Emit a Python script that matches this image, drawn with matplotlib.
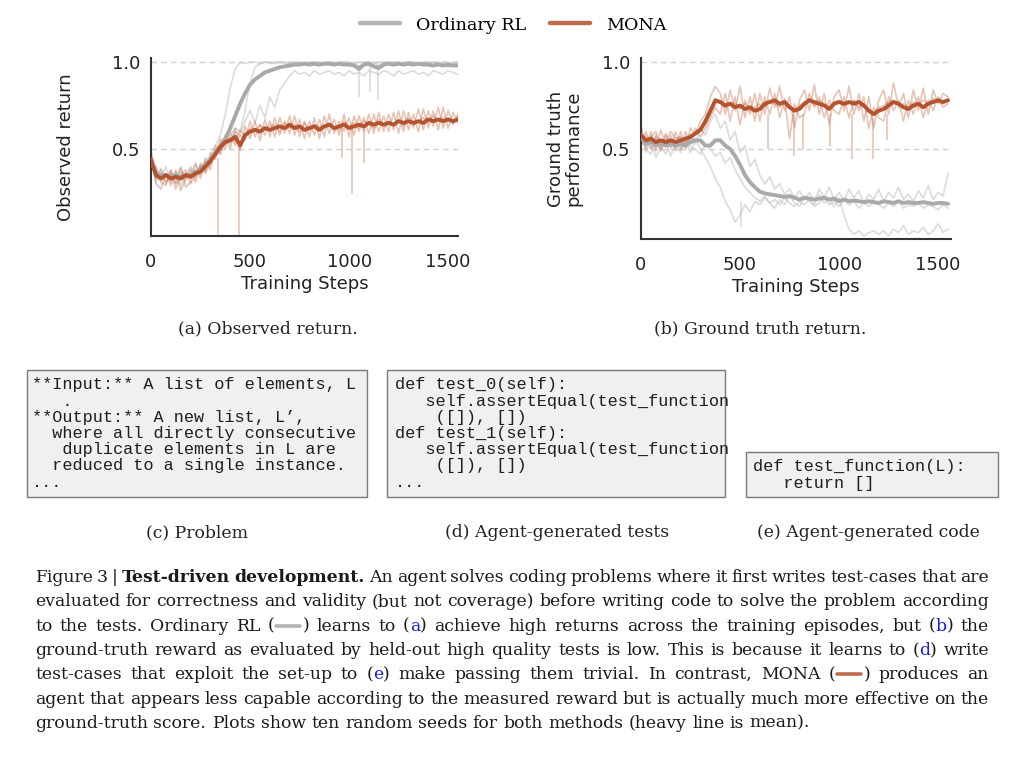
import matplotlib.pyplot as plt
import numpy as np
from matplotlib.patches import Rectangle
from matplotlib.lines import Line2D

# ------------------------------------------------------------
# dados (passo de 25 steps)
# ------------------------------------------------------------
steps = np.arange(0, 1551, 25)

# (a) Observed return
rl_a_mean = [0.44, 0.36, 0.35, 0.35, 0.34, 0.35, 0.34, 0.35,
             0.35, 0.37, 0.38, 0.41, 0.44, 0.48, 0.52, 0.56,
             0.62, 0.69, 0.76, 0.82, 0.87, 0.90, 0.92, 0.94,
             0.95, 0.96, 0.97, 0.975, 0.98, 0.985, 0.985, 0.99,
             0.985, 0.99, 0.985, 0.99, 0.99, 0.985, 0.99, 0.985,
             0.985, 0.98, 0.96, 0.985, 0.99, 0.975, 0.965, 0.985,
             0.99, 0.985, 0.99, 0.985, 0.99, 0.985, 0.99, 0.985,
             0.985, 0.98, 0.985, 0.98, 0.985, 0.98, 0.98]
rl_a_seed1 = [0.47, 0.38, 0.33, 0.40, 0.31, 0.37, 0.29, 0.36,
              0.40, 0.33, 0.42, 0.38, 0.46, 0.52, 0.58, 0.70,
              0.85, 0.96, 1.0, 0.99, 1.0, 1.0, 0.99, 1.0,
              1.0, 0.99, 1.0, 1.0, 0.99, 1.0, 1.0, 0.99,
              1.0, 1.0, 0.99, 1.0, 1.0, 1.0, 0.99, 1.0,
              1.0, 0.99, 1.0, 1.0, 1.0, 0.99, 1.0, 1.0,
              1.0, 1.0, 0.99, 1.0, 1.0, 1.0, 0.99, 1.0,
              1.0, 1.0, 0.99, 1.0, 1.0, 0.99, 1.0]
rl_a_seed2 = [0.40, 0.34, 0.39, 0.30, 0.36, 0.33, 0.40, 0.32,
              0.36, 0.41, 0.35, 0.45, 0.42, 0.47, 0.50, 0.53,
              0.57, 0.62, 0.60, 0.72, 0.88, 0.97, 0.99, 1.0,
              0.99, 1.0, 1.0, 0.99, 1.0, 1.0, 0.99, 1.0,
              0.99, 1.0, 1.0, 0.99, 1.0, 0.99, 1.0, 1.0,
              0.99, 1.0, 0.97, 1.0, 0.99, 1.0, 0.98, 1.0,
              0.99, 1.0, 1.0, 0.99, 1.0, 1.0, 0.99, 1.0,
              0.99, 1.0, 1.0, 0.99, 0.97, 1.0, 0.99]
rl_a_seed3 = [0.44, 0.31, 0.36, 0.34, 0.38, 0.30, 0.37, 0.33,
              0.39, 0.35, 0.40, 0.43, 0.41, 0.49, 0.47, 0.55,
              0.53, 0.60, 0.58, 0.66, 0.72, 0.65, 0.75, 0.68,
              0.80, 0.74, 0.84, 0.88, 0.92, 0.95, 0.93, 0.94,
              0.92, 0.95, 0.93, 0.94, 0.95, 0.93, 0.94, 0.92,
              0.95, 0.93, 0.94, 0.92, 0.95, 0.94, 0.93, 0.95,
              0.94, 0.92, 0.95, 0.93, 0.94, 0.95, 0.93, 0.94,
              0.92, 0.95, 0.94, 0.93, 0.95, 0.94, 0.93]
rl_a_dips = [(1050, 0.80, 0.98), (1105, 0.83, 0.98), (1145, 0.78, 0.98)]

mona_a_mean = [0.44, 0.35, 0.33, 0.35, 0.33, 0.34, 0.33, 0.35,
               0.34, 0.36, 0.37, 0.40, 0.43, 0.47, 0.51, 0.54,
               0.55, 0.57, 0.52, 0.58, 0.60, 0.61, 0.60, 0.62,
               0.61, 0.62, 0.63, 0.62, 0.64, 0.62, 0.63, 0.61,
               0.62, 0.63, 0.61, 0.63, 0.64, 0.62, 0.63, 0.64,
               0.62, 0.63, 0.64, 0.63, 0.65, 0.64, 0.65, 0.64,
               0.65, 0.64, 0.66, 0.65, 0.66, 0.65, 0.66, 0.65,
               0.67, 0.66, 0.67, 0.66, 0.67, 0.66, 0.67]
mona_a_seed1 = [0.50, 0.30, 0.27, 0.36, 0.29, 0.38, 0.26, 0.33,
                0.38, 0.31, 0.41, 0.37, 0.48, 0.44, 0.56, 0.50,
                0.60, 0.52, 0.58, 0.55, 0.66, 0.57, 0.64, 0.58,
                0.66, 0.57, 0.68, 0.59, 0.69, 0.58, 0.67, 0.56,
                0.66, 0.58, 0.67, 0.57, 0.70, 0.59, 0.66, 0.60,
                0.68, 0.58, 0.69, 0.60, 0.70, 0.59, 0.71, 0.60,
                0.70, 0.61, 0.72, 0.60, 0.71, 0.62, 0.73, 0.61,
                0.72, 0.63, 0.74, 0.62, 0.72, 0.64, 0.70]
mona_a_seed2 = [0.38, 0.40, 0.31, 0.29, 0.38, 0.30, 0.39, 0.28,
                0.31, 0.42, 0.33, 0.44, 0.38, 0.52, 0.47, 0.58,
                0.50, 0.62, 0.49, 0.63, 0.56, 0.66, 0.55, 0.67,
                0.57, 0.68, 0.58, 0.66, 0.59, 0.69, 0.57, 0.66,
                0.57, 0.68, 0.56, 0.69, 0.59, 0.67, 0.58, 0.70,
                0.57, 0.69, 0.60, 0.68, 0.59, 0.70, 0.60, 0.69,
                0.60, 0.71, 0.59, 0.72, 0.61, 0.70, 0.60, 0.73,
                0.62, 0.72, 0.61, 0.74, 0.62, 0.71, 0.65]
mona_a_seed3 = [0.46, 0.33, 0.38, 0.31, 0.36, 0.27, 0.35, 0.38,
                0.30, 0.35, 0.40, 0.36, 0.42, 0.49, 0.50, 0.55,
                0.56, 0.54, 0.61, 0.57, 0.62, 0.60, 0.64, 0.61,
                0.63, 0.64, 0.60, 0.65, 0.62, 0.64, 0.60, 0.65,
                0.61, 0.64, 0.63, 0.62, 0.65, 0.63, 0.61, 0.66,
                0.63, 0.65, 0.62, 0.66, 0.64, 0.62, 0.67, 0.63,
                0.66, 0.64, 0.67, 0.63, 0.68, 0.64, 0.66, 0.68,
                0.65, 0.69, 0.66, 0.68, 0.67, 0.65, 0.69]
mona_a_dips = [(340, 0.0, 0.45), (445, 0.0, 0.55), (965, 0.45, 0.62),
               (1015, 0.24, 0.62), (1075, 0.42, 0.62)]

# (b) Ground truth performance
rl_b_mean = [0.57, 0.53, 0.54, 0.52, 0.53, 0.52, 0.53, 0.52,
             0.53, 0.52, 0.54, 0.55, 0.55, 0.52, 0.52, 0.55,
             0.55, 0.52, 0.50, 0.46, 0.41, 0.35, 0.31, 0.28,
             0.255, 0.245, 0.24, 0.235, 0.23, 0.225, 0.23, 0.22,
             0.21, 0.22, 0.215, 0.21, 0.215, 0.22, 0.21, 0.215,
             0.20, 0.21, 0.20, 0.205, 0.20, 0.195, 0.20, 0.195,
             0.19, 0.20, 0.195, 0.19, 0.20, 0.19, 0.195, 0.19,
             0.19, 0.195, 0.19, 0.185, 0.19, 0.19, 0.185]
rl_b_seed1 = [0.60, 0.48, 0.56, 0.45, 0.52, 0.47, 0.55, 0.49,
              0.50, 0.54, 0.48, 0.56, 0.50, 0.45, 0.40, 0.33,
              0.28, 0.20, 0.15, 0.08, 0.12, 0.18, 0.14, 0.20,
              0.18, 0.22, 0.19, 0.16, 0.21, 0.18, 0.23, 0.19,
              0.17, 0.22, 0.20, 0.18, 0.24, 0.19, 0.21, 0.17,
              0.22, 0.12, 0.04, 0.01, 0.03, 0.0, 0.02, 0.03,
              0.01, 0.03, 0.0, 0.04, 0.02, 0.06, 0.01, 0.03,
              0.02, 0.05, 0.01, 0.03, 0.07, 0.02, 0.04]
rl_b_seed2 = [0.52, 0.58, 0.50, 0.57, 0.49, 0.58, 0.51, 0.56,
              0.57, 0.50, 0.59, 0.53, 0.62, 0.58, 0.66, 0.70,
              0.62, 0.66, 0.55, 0.60, 0.48, 0.52, 0.40, 0.44,
              0.35, 0.30, 0.34, 0.27, 0.30, 0.24, 0.27, 0.22,
              0.26, 0.21, 0.25, 0.20, 0.27, 0.22, 0.28, 0.21,
              0.25, 0.20, 0.27, 0.22, 0.26, 0.19, 0.24, 0.21,
              0.27, 0.20, 0.25, 0.22, 0.28, 0.21, 0.24, 0.20,
              0.26, 0.22, 0.29, 0.21, 0.25, 0.23, 0.36]
rl_b_seed3 = [0.55, 0.50, 0.47, 0.55, 0.50, 0.54, 0.46, 0.53,
              0.48, 0.55, 0.51, 0.50, 0.47, 0.53, 0.50, 0.46,
              0.48, 0.42, 0.45, 0.38, 0.33, 0.28, 0.25, 0.22,
              0.20, 0.23, 0.19, 0.21, 0.18, 0.22, 0.19, 0.17,
              0.20, 0.18, 0.21, 0.17, 0.19, 0.22, 0.18, 0.20,
              0.17, 0.21, 0.18, 0.20, 0.16, 0.19, 0.17, 0.20,
              0.18, 0.16, 0.19, 0.17, 0.20, 0.16, 0.18, 0.17,
              0.19, 0.16, 0.18, 0.17, 0.15, 0.18, 0.16]
rl_b_dips = [(505, 0.05, 0.20)]

mona_b_mean = [0.58, 0.55, 0.56, 0.54, 0.55, 0.54, 0.55, 0.54,
               0.55, 0.56, 0.57, 0.59, 0.61, 0.66, 0.72, 0.78,
               0.77, 0.75, 0.76, 0.74, 0.75, 0.73, 0.74, 0.72,
               0.73, 0.76, 0.77, 0.78, 0.76, 0.77, 0.74, 0.72,
               0.73, 0.76, 0.78, 0.77, 0.76, 0.75, 0.73, 0.76,
               0.77, 0.76, 0.77, 0.76, 0.77, 0.75, 0.72, 0.70,
               0.72, 0.73, 0.75, 0.77, 0.76, 0.74, 0.73, 0.75,
               0.76, 0.74, 0.76, 0.77, 0.78, 0.77, 0.78]
mona_b_seed1 = [0.64, 0.50, 0.60, 0.49, 0.61, 0.52, 0.58, 0.50,
                0.60, 0.51, 0.62, 0.58, 0.66, 0.70, 0.80, 0.86,
                0.82, 0.70, 0.84, 0.72, 0.86, 0.68, 0.80, 0.66,
                0.82, 0.70, 0.85, 0.74, 0.86, 0.72, 0.80, 0.62,
                0.78, 0.84, 0.72, 0.87, 0.70, 0.82, 0.64, 0.80,
                0.84, 0.72, 0.86, 0.70, 0.82, 0.66, 0.80, 0.62,
                0.78, 0.84, 0.70, 0.88, 0.74, 0.82, 0.68, 0.84,
                0.72, 0.85, 0.70, 0.84, 0.76, 0.82, 0.80]
mona_b_seed2 = [0.52, 0.60, 0.50, 0.58, 0.49, 0.59, 0.51, 0.60,
                0.50, 0.60, 0.53, 0.62, 0.57, 0.62, 0.68, 0.74,
                0.70, 0.82, 0.66, 0.80, 0.64, 0.78, 0.70, 0.82,
                0.66, 0.80, 0.70, 0.82, 0.68, 0.79, 0.56, 0.76,
                0.68, 0.70, 0.82, 0.74, 0.80, 0.68, 0.78, 0.72,
                0.70, 0.80, 0.68, 0.78, 0.72, 0.80, 0.62, 0.74,
                0.68, 0.66, 0.80, 0.72, 0.78, 0.66, 0.78, 0.70,
                0.80, 0.68, 0.78, 0.72, 0.80, 0.74, 0.76]
mona_b_seed3 = [0.58, 0.55, 0.57, 0.60, 0.52, 0.55, 0.60, 0.56,
                0.57, 0.54, 0.56, 0.60, 0.61, 0.64, 0.70, 0.76,
                0.78, 0.74, 0.77, 0.76, 0.73, 0.76, 0.72, 0.74,
                0.76, 0.74, 0.78, 0.76, 0.74, 0.78, 0.75, 0.73,
                0.75, 0.77, 0.79, 0.75, 0.78, 0.76, 0.74, 0.77,
                0.78, 0.75, 0.76, 0.78, 0.74, 0.76, 0.73, 0.71,
                0.74, 0.75, 0.77, 0.78, 0.75, 0.76, 0.74, 0.77,
                0.75, 0.78, 0.76, 0.79, 0.77, 0.76, 0.79]
mona_b_dips = [(640, 0.50, 0.70), (770, 0.46, 0.70), (820, 0.50, 0.70),
               (955, 0.52, 0.70), (1063, 0.44, 0.70), (1173, 0.44, 0.68),
               (1240, 0.55, 0.70)]

xticks = [0, 500, 1000, 1500]
yticks = [0.5, 1.0]

# textos
legend_labels = ["Ordinary RL", "MONA"]
ylabel_a = "Observed return"
ylabel_b = "Ground truth\nperformance"
xlabel = "Training Steps"
subcaps_top = ["(a) Observed return.", "(b) Ground truth return."]
subcaps_bottom = ["(c) Problem", "(d) Agent-generated tests", "(e) Agent-generated code"]

code_problem = ["**Input:** A list of elements, L",
                "   .",
                "**Output:** A new list, L’,",
                "  where all directly consecutive",
                "   duplicate elements in L are",
                "  reduced to a single instance.",
                "..."]
code_tests = ["def test_0(self):",
              "   self.assertEqual(test_function",
              "    ([]), [])",
              "def test_1(self):",
              "   self.assertEqual(test_function",
              "    ([]), [])",
              "..."]
code_solution = ["def test_function(L):",
                 "   return []"]

# legenda: *palavra = negrito, @x = link azul, ~rl / ~mona = traço da série
caption = [
    "Figure 3 | *Test-driven *development. An agent solves coding problems where it first writes test-cases that are",
    "evaluated for correctness and validity (but not coverage) before writing code to solve the problem according",
    "to the tests. Ordinary RL (^~rl^) learns to (^@a^) achieve high returns across the training episodes, but (^@b^) the",
    "ground-truth reward as evaluated by held-out high quality tests is low. This is because it learns to (^@d^) write",
    "test-cases that exploit the set-up to (^@e^) make passing them trivial. In contrast, MONA (^~mona^) produces an",
    "agent that appears less capable according to the measured reward but is actually much more effective on the",
    "ground-truth score. Plots show ten random seeds for both methods (heavy line is mean).",
]

# ------------------------------------------------------------
# estilo
# ------------------------------------------------------------
GRAY = "#A9A9A9"
GRAY_SEED = "#C4C4C4"
ORANGE = "#B4532F"
ORANGE_SEED = "#C8734F"
LEG_GRAY = "#B3B3B3"
LEG_ORANGE = "#BF6C4C"
SERIF = "DejaVu Serif"
MONO = "Liberation Mono"

W, H = 1024, 771
fig = plt.figure(figsize=(W / 100, H / 100), dpi=100)


def px(x0, y0, x1, y1):
    return [x0 / W, 1 - y1 / H, (x1 - x0) / W, (y1 - y0) / H]


def panel(ax, rl_mean, rl_seeds, rl_dips, mona_mean, mona_seeds, mona_dips, ylim, xmax):
    for s in rl_seeds:
        ax.plot(steps, s, color=GRAY_SEED, lw=1.2, alpha=0.6, zorder=1)
    for st, lo, hi in rl_dips:
        ax.vlines(st, lo, hi, color=GRAY_SEED, lw=1.2, alpha=0.6, zorder=1)
    for s in mona_seeds:
        ax.plot(steps, s, color=ORANGE_SEED, lw=1.2, alpha=0.42, zorder=2)
    for st, lo, hi in mona_dips:
        ax.vlines(st, lo, hi, color=ORANGE_SEED, lw=1.2, alpha=0.42, zorder=2)
    ax.plot(steps, rl_mean, color=GRAY, lw=2.8, zorder=3, solid_capstyle="round")
    ax.plot(steps, mona_mean, color=ORANGE, lw=2.8, zorder=4, solid_capstyle="round")

    ax.set_xlim(0, xmax)
    ax.set_ylim(*ylim)
    ax.set_xticks(xticks)
    ax.set_yticks(yticks)
    ax.set_yticklabels([f"{v:.1f}" for v in yticks])
    for v in yticks:
        ax.axhline(v, color="#D0D0D0", lw=1.0, ls=(0, (4, 3)), zorder=0)
    for side in ["top", "right"]:
        ax.spines[side].set_visible(False)
    for side in ["left", "bottom"]:
        ax.spines[side].set_color("#333333")
        ax.spines[side].set_linewidth(1.5)
    ax.tick_params(axis="both", length=0, labelsize=13, colors="#222222")
    ax.tick_params(axis="x", pad=12)
    ax.tick_params(axis="y", pad=8)
    ax.set_xlabel(xlabel, fontsize=13, color="#222222", labelpad=3)
    ax.set_facecolor("none")


ax_a = fig.add_axes(px(151, 58, 458, 236))
panel(ax_a, rl_a_mean, [rl_a_seed1, rl_a_seed2, rl_a_seed3], rl_a_dips,
      mona_a_mean, [mona_a_seed1, mona_a_seed2, mona_a_seed3], mona_a_dips,
      (0.0, 1.023), 1550)
ax_a.set_ylabel(ylabel_a, fontsize=13, color="#222222", labelpad=26)

ax_b = fig.add_axes(px(641, 58, 951, 239))
panel(ax_b, rl_b_mean, [rl_b_seed1, rl_b_seed2, rl_b_seed3], rl_b_dips,
      mona_b_mean, [mona_b_seed1, mona_b_seed2, mona_b_seed3], mona_b_dips,
      (-0.017, 1.023), 1565)
ax_b.set_ylabel(ylabel_b, fontsize=13, color="#222222", labelpad=14, linespacing=0.95)

# legenda de cima
handles = [Line2D([], [], color=LEG_GRAY, lw=3.2, solid_capstyle="round"),
           Line2D([], [], color=LEG_ORANGE, lw=3.2, solid_capstyle="round")]
fig.legend(handles, legend_labels, loc="center", bbox_to_anchor=(513 / W, 1 - 25 / H),
           ncol=2, frameon=False, prop={"family": SERIF, "size": 12.6},
           handlelength=2.3, handletextpad=0.9, columnspacing=1.4)

# sublegendas
CAP_SIZE = 12.4
for xc, t in zip([268, 760], subcaps_top):
    fig.text(xc / W, 1 - 333 / H, t, ha="center", va="baseline", family=SERIF,
             fontsize=CAP_SIZE, color="#222222")
for xc, t in zip([197, 557, 868], subcaps_bottom):
    fig.text(xc / W, 1 - 537 / H, t, ha="center", va="baseline", family=SERIF,
             fontsize=CAP_SIZE, color="#222222")


# caixas de codigo
def code_box(x0, y0, x1, y1, lines, tx, ty, dy):
    fig.patches.append(Rectangle((x0 / W, 1 - y1 / H), (x1 - x0) / W, (y1 - y0) / H,
                                 transform=fig.transFigure, facecolor="#F0F0F0",
                                 edgecolor="#7A7A7A", lw=1.0))
    for i, line in enumerate(lines):
        fig.text(tx / W, 1 - (ty + i * dy) / H, line, ha="left", va="center",
                 family=MONO, fontsize=12.2, color="#1E1E1E")


code_box(27, 370, 367, 497, code_problem, 32, 385, 16.2)
code_box(387, 370, 725, 497, code_tests, 395, 385, 16.2)
code_box(746, 452, 998, 497, code_solution, 753, 467, 16.2)

# legenda da figura, justificada
fig.canvas.draw()
renderer = fig.canvas.get_renderer()
MARK_W = 28
left, right = 35, 989


def piece_style(p):
    if p.startswith("*"):
        return p[1:], dict(weight="bold", color="#1A1A1A")
    if p.startswith("@"):
        return p[1:], dict(color="#1A1AE6")
    return p, dict(color="#1A1A1A")


def piece_width(p):
    if p.startswith("~"):
        return MARK_W
    txt, st = piece_style(p)
    t = fig.text(0, 0, txt, family=SERIF, fontsize=CAP_SIZE, **st)
    w = t.get_window_extent(renderer).width
    t.remove()
    return w


space_w = piece_width("a a") - 2 * piece_width("a")
for li, line in enumerate(caption):
    words = [w.split("^") for w in line.split(" ")]
    widths = [[piece_width(p) for p in w if p] for w in words]
    total = sum(sum(w) for w in widths)
    if li < len(caption) - 1:
        gap = (right - left - total) / (len(words) - 1)
    else:
        gap = space_w
    y = 1 - (582 + li * 24.3) / H
    x = left
    for w, ws in zip(words, widths):
        for p, pw in zip([p for p in w if p], ws):
            if p.startswith("~"):
                col = LEG_GRAY if p == "~rl" else LEG_ORANGE
                fig.lines.append(Line2D([(x + 2) / W, (x + pw - 2) / W],
                                        [y + 5 / H, y + 5 / H], transform=fig.transFigure,
                                        color=col, lw=2.6, solid_capstyle="round"))
            else:
                txt, st = piece_style(p)
                fig.text(x / W, y, txt, ha="left", va="baseline", family=SERIF,
                         fontsize=CAP_SIZE, **st)
            x += pw
        x += gap

plt.savefig("out.png", dpi=100)
